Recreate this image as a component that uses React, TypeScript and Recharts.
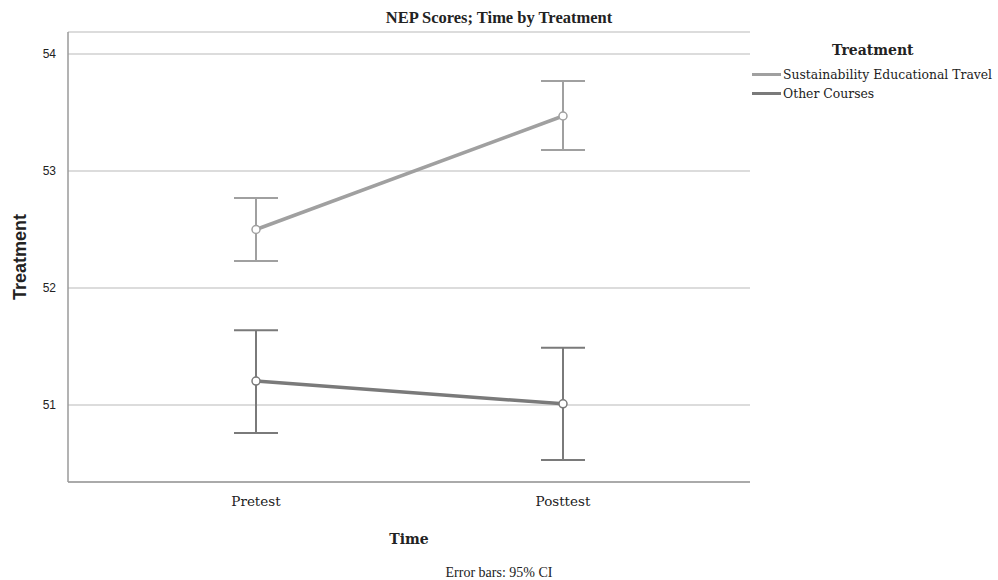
import { LineChart, Line, XAxis, YAxis, CartesianGrid, ErrorBar, Legend } from "recharts";

const timePoints = ["Pretest", "Posttest"];
const travelMeans = [52.5, 53.47];
const travelLow = [52.23, 53.18];
const travelHigh = [52.77, 53.77];
const otherMeans = [51.205, 51.01];
const otherLow = [50.76, 50.53];
const otherHigh = [51.64, 51.49];
const yTicks = [51, 52, 53, 54];

const data = timePoints.map((time, i) => ({
  time,
  travel: travelMeans[i],
  travelErr: [travelMeans[i] - travelLow[i], travelHigh[i] - travelMeans[i]],
  other: otherMeans[i],
  otherErr: [otherMeans[i] - otherLow[i], otherHigh[i] - otherMeans[i]],
}));

const serif = "'Liberation Serif', 'Times New Roman', serif";
const wideSerif = "'DejaVu Serif', serif";
const sans = "Arial, 'Liberation Sans', sans-serif";
const travelColor = "#a0a0a0";
const otherColor = "#7a7a7a";

const legendItems = [
  { label: "Sustainability Educational Travel", color: travelColor },
  { label: "Other Courses", color: otherColor },
];

function TreatmentLegend() {
  return (
    <div style={{ fontFamily: wideSerif, color: "#222" }}>
      <div style={{ fontWeight: "bold", fontSize: 14, marginLeft: 80, marginBottom: 7 }}>Treatment</div>
      {legendItems.map((item) => (
        <div key={item.label} style={{ display: "flex", alignItems: "center", fontSize: 12.4, lineHeight: "19px" }}>
          <span style={{ display: "inline-block", width: 29, height: 3, background: item.color, marginRight: 2 }} />
          {item.label}
        </div>
      ))}
    </div>
  );
}

export default function App() {
  return (
    <div style={{ position: "absolute", left: 0, top: 0, width: 998, height: 580, background: "#fff" }}>
      <div style={{ position: "absolute", top: 8, left: 0, width: 998, textAlign: "center", fontFamily: serif, fontWeight: "bold", fontSize: 16.5, color: "#222" }}>
        NEP Scores; Time by Treatment
      </div>
      <LineChart width={998} height={580} data={data} margin={{ top: 32, right: 2, bottom: 68, left: 8 }} style={{ fontFamily: sans }}>
        <CartesianGrid vertical={false} stroke="#dcdcdc" strokeWidth={2} />
        <XAxis
          dataKey="time"
          padding={{ left: 188, right: 187 }}
          height={30}
          stroke="#9a9a9a"
          strokeWidth={1.5}
          tickLine={false}
          tick={{ fontFamily: wideSerif, fontSize: 13.5, fill: "#222" }}
          tickMargin={8}
          label={{ value: "Time", position: "insideBottom", offset: -32, style: { fontFamily: wideSerif, fontWeight: "bold", fontSize: 14 }, fill: "#222" }}
        />
        <YAxis
          type="number"
          domain={[50.342, 54.188]}
          ticks={yTicks}
          width={60}
          stroke="#9a9a9a"
          strokeWidth={1.5}
          tickLine={false}
          tick={{ fontFamily: sans, fontSize: 12, fill: "#222" }}
          tickMargin={6}
          label={{ value: "Treatment", angle: -90, position: "insideLeft", offset: 12, textAnchor: "middle", fontFamily: sans, style: { fontFamily: sans, fontWeight: "bold", fontSize: 18, textAnchor: "middle" }, fill: "#222" }}
        />
        <Legend
          layout="horizontal"
          verticalAlign="middle"
          align="right"
          wrapperStyle={{ position: "absolute", top: 42, left: 752, width: 246 }}
          content={() => <TreatmentLegend />}
        />
        <Line
          dataKey="travel"
          stroke={travelColor}
          strokeWidth={3.5}
          dot={{ r: 4, fill: "#fff", stroke: travelColor, strokeWidth: 1.5 }}
          isAnimationActive={false}
        >
          <ErrorBar dataKey="travelErr" width={22} stroke={travelColor} strokeWidth={2} direction="y" />
        </Line>
        <Line
          dataKey="other"
          stroke={otherColor}
          strokeWidth={3.5}
          dot={{ r: 4, fill: "#fff", stroke: otherColor, strokeWidth: 1.5 }}
          isAnimationActive={false}
        >
          <ErrorBar dataKey="otherErr" width={22} stroke={otherColor} strokeWidth={2} direction="y" />
        </Line>
      </LineChart>
      <div style={{ position: "absolute", top: 565, left: 0, width: 998, textAlign: "center", fontFamily: serif, fontSize: 14, color: "#222" }}>
        Error bars: 95% CI
      </div>
    </div>
  );
}
